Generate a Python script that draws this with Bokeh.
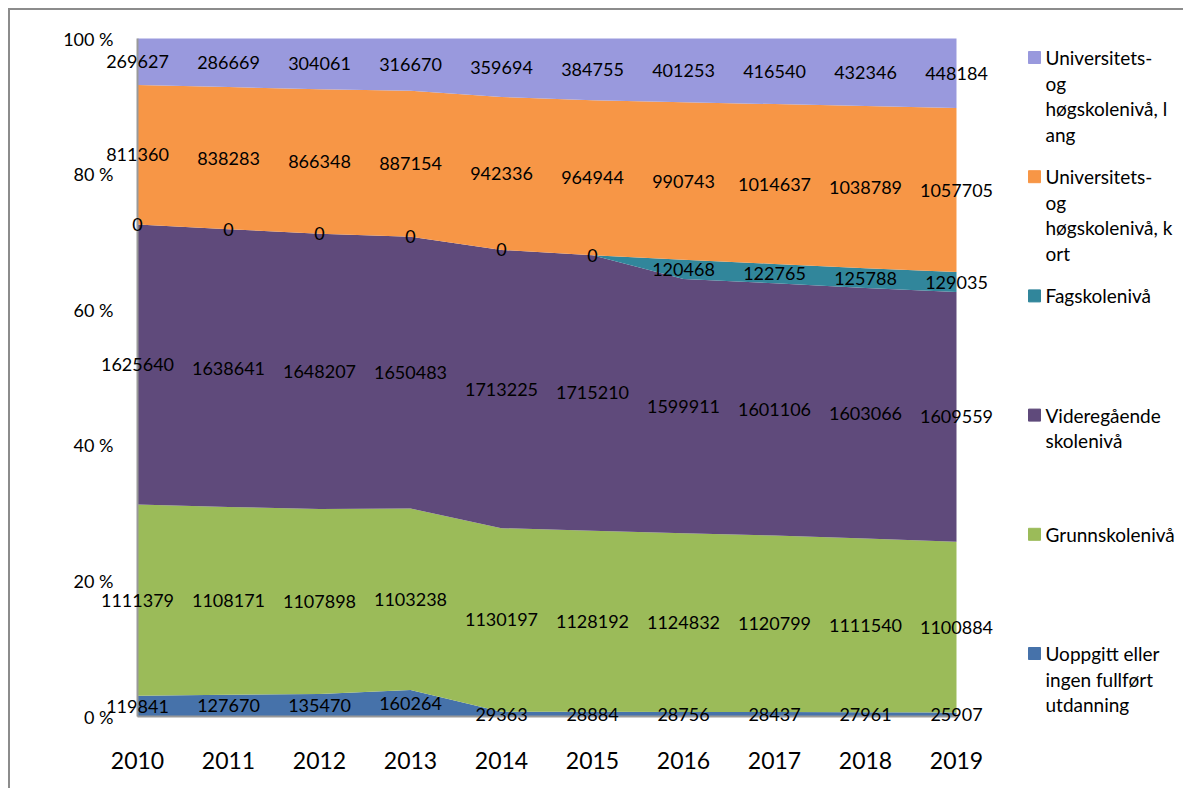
from bokeh.plotting import figure
from bokeh.models import ColumnDataSource, Range1d
from bokeh.layouts import row
from bokeh.core.properties import value
from bokeh.embed import file_html
from bokeh.resources import INLINE

years = [2010, 2011, 2012, 2013, 2014, 2015, 2016, 2017, 2018, 2019]
uoppgitt = [119841, 127670, 135470, 160264, 29363, 28884, 28756, 28437, 27961, 25907]
grunnskole = [1111379, 1108171, 1107898, 1103238, 1130197, 1128192, 1124832, 1120799, 1111540, 1100884]
videregaende = [1625640, 1638641, 1648207, 1650483, 1713225, 1715210, 1599911, 1601106, 1603066, 1609559]
fagskole = [0, 0, 0, 0, 0, 0, 120468, 122765, 125788, 129035]
uh_kort = [811360, 838283, 866348, 887154, 942336, 964944, 990743, 1014637, 1038789, 1057705]
uh_lang = [269627, 286669, 304061, 316670, 359694, 384755, 401253, 416540, 432346, 448184]

series_names = ["uoppgitt", "grunnskole", "videregaende", "fagskole", "uh_kort", "uh_lang"]
series_values = [uoppgitt, grunnskole, videregaende, fagskole, uh_kort, uh_lang]
series_colors = ["#4672AA", "#9BBB59", "#5F4A7B", "#31869B", "#F79646", "#9999DD"]
legend_labels = [
    ["Universitets-", "og", "høgskolenivå, l", "ang"],
    ["Universitets-", "og", "høgskolenivå, k", "ort"],
    ["Fagskolenivå"],
    ["Videregående", "skolenivå"],
    ["Grunnskolenivå"],
    ["Uoppgitt eller", "ingen fullført", "utdanning"],
]
legend_colors = ["#9999DD", "#F79646", "#31869B", "#5F4A7B", "#9BBB59", "#4672AA"]
y_tick_values = [0, 0.2, 0.4, 0.6, 0.8, 1.0]
y_tick_labels = ["0 %", "20 %", "40 %", "60 %", "80 %", "100 %"]

FONT = "Lato"
AXIS_COLOR = "#999999"

# layout (pixels)
W, H = 1000, 778
left_px, right_px, top_px, bottom_px = 127, 54, 28, 72
ppx = (W - left_px - right_px) / (years[-1] - years[0])
ppy = (H - top_px - bottom_px) / 1.0
x_range = Range1d(years[0] - left_px / ppx, years[-1] + right_px / ppx)
y_range = Range1d(-bottom_px / ppy, 1.0 + top_px / ppy)

totals = [sum(v[i] for v in series_values) for i in range(len(years))]
data = {"x": years}
for name, vals in zip(series_names, series_values):
    data[name] = [v / t for v, t in zip(vals, totals)]
src = ColumnDataSource(data)

p = figure(width=W, height=H, output_backend="svg", toolbar_location=None, title=None,
           x_range=x_range, y_range=y_range, min_border=0)
p.outline_line_color = None
p.grid.visible = False
p.axis.visible = False

p.varea_stack(stackers=series_names, x="x", color=series_colors, source=src)

# axis lines
p.segment(x0=[years[0], years[0]], y0=[0, 0], x1=[years[0], years[-1]], y1=[1, 0],
          line_color=AXIS_COLOR, line_width=2)

# y tick labels
p.text(x=[years[0]] * len(y_tick_values), y=y_tick_values, text=y_tick_labels,
       x_offset=-24, text_align="right", text_baseline="middle",
       text_font=value(FONT), text_font_size="18px", text_color="black")

# x tick labels
p.text(x=years, y=[0] * len(years), text=[str(y) for y in years], y_offset=44,
       text_align="center", text_baseline="middle",
       text_font=value(FONT), text_font_size="23px", text_color="black")

# data labels centred in each band
lx, ly, lt = [], [], []
for i, yr in enumerate(years):
    base = 0.0
    for name, vals in zip(series_names, series_values):
        share = data[name][i]
        lx.append(yr)
        ly.append(base + share / 2)
        lt.append(str(vals[i]))
        base += share
p.text(x=lx, y=ly, text=lt, text_align="center", text_baseline="middle",
       text_font=value(FONT), text_font_size="18px", text_color="black")

# legend panel
LW = 173
lg = figure(width=LW, height=H, output_backend="svg", toolbar_location=None, title=None,
            x_range=Range1d(0, LW), y_range=Range1d(H, 0), min_border=0)
lg.axis.visible = False
lg.grid.visible = False
lg.outline_line_color = None

sq_x, sq_y, sq_c = [], [], []
tx, ty, tt = [], [], []
for i, (lines, col) in enumerate(zip(legend_labels, legend_colors)):
    y0 = 47 + i * 119.2
    sq_x.append(24)
    sq_y.append(y0)
    sq_c.append(col)
    for j, line in enumerate(lines):
        tx.append(35)
        ty.append(y0 + j * 25.5)
        tt.append(line)
lg.rect(x=sq_x, y=sq_y, width=12, height=12, color=sq_c)
lg.text(x=tx, y=ty, text=tt, text_font=value(FONT), text_font_size="19px",
        text_baseline="middle", text_color="black")

layout = row(p, lg, styles={"margin-left": "8px", "margin-top": "8px",
                            "border-top": "2px solid #8c8c8c",
                            "border-left": "2px solid #8c8c8c"})

open("out.html", "w").write(file_html(layout, INLINE))
